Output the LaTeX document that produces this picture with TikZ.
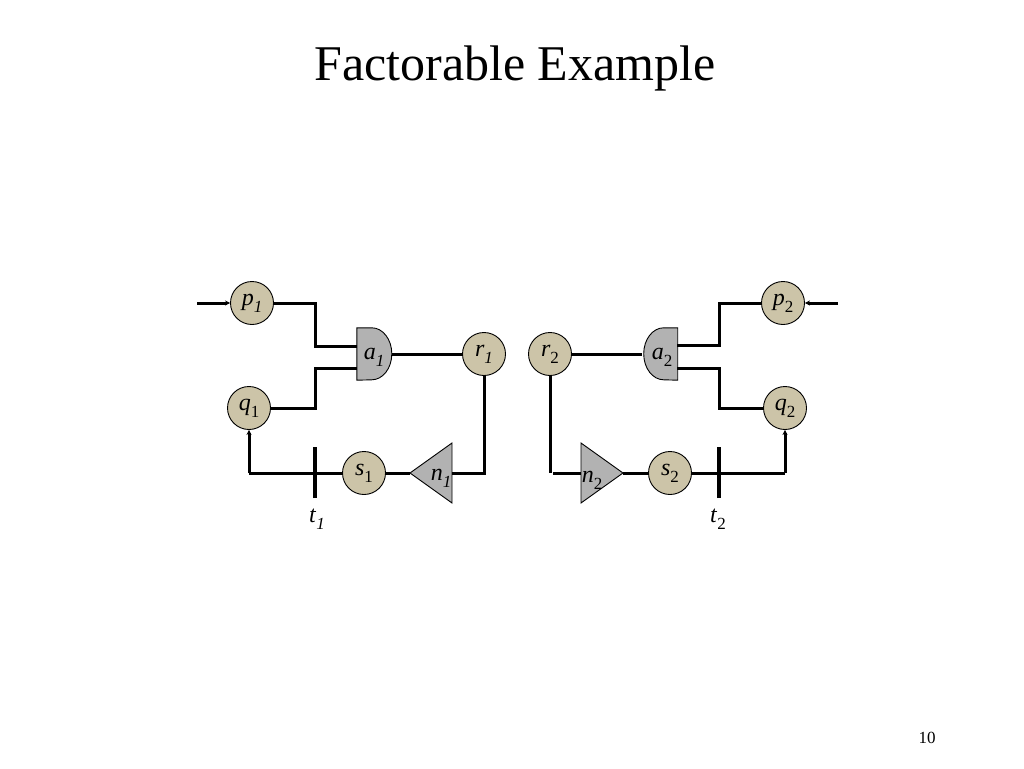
\documentclass[tikz,border=0pt]{standalone}
\usepackage{fontspec}
\setmainfont{Liberation Serif}
\usetikzlibrary{arrows.meta}
\definecolor{tanfill}{RGB}{204,196,168}
\definecolor{gatefill}{RGB}{178,178,178}
% label: #1 letter, #2 subscript (already styled)
\newcommand{\lab}[2]{\textit{#1}\raisebox{-0.28em}{\fontsize{17}{18}\selectfont #2}}
\tikzset{
  place/.style={circle,draw=black,line width=0.9pt,fill=tanfill,minimum size=43pt,inner sep=0pt,font=\fontsize{24}{26}\selectfont},
  gate/.style={minimum width=35pt,minimum height=52pt,inner sep=0pt},
  shapeline/.style={draw=black,line width=0.9pt,fill=gatefill},
  wire/.style={line width=3pt,line join=miter},
  arrowwire/.style={wire,-{Stealth[length=5pt,width=5pt]}},
  bar/.style={line width=4.5pt},
  lbl/.style={inner sep=0pt,font=\fontsize{24}{26}\selectfont}
}
\begin{document}
\begin{tikzpicture}[x=1pt,y=-1pt]
\useasboundingbox (0,0) rectangle (1024,768);
% title and page number
\node[anchor=base,inner sep=0pt,font=\fontsize{50}{54}\selectfont] (title) at (515,80) {Factorable Example};
\node[anchor=base,inner sep=0pt,font=\fontsize{17}{19}\selectfont] (page) at (927,743) {10};

% ---------- left half ----------
\node[place] (p1) at (252,303) {\lab{p}{\textit{1}}};
\node[place] (q1) at (249,408) {\lab{q}{1}};
\node[place] (r1) at (484,354) {\lab{r}{\textit{1}}};
\node[place] (s1) at (364,473) {\lab{s}{1}};
\node[gate] (a1) at (374.5,354) {};
\draw[shapeline] (a1.north west) -- ++(15,0) arc[start angle=-90,end angle=90,x radius=20,y radius=26] -- (a1.south west) -- cycle;
\node[lbl] (a1l) at (374,357) {\lab{a}{\textit{1}}};
\coordinate (n1tip) at (410,473);
\coordinate (n1top) at (452,443);
\coordinate (n1bot) at (452,503);
\coordinate (n1base) at (452,473);
\draw[shapeline] (n1tip) -- (n1top) -- (n1bot) -- cycle;
\node[lbl] (n1) at (441,478) {\lab{n}{\textit{1}}};
\coordinate (in1) at (197,303);
\coordinate (p1k) at (315,303);
\coordinate (a1in1) at (357,346);
\coordinate (a1in2) at (357,368);
\coordinate (q1k) at (315,408);
\coordinate (r1dn) at (484,473);
\coordinate (l1c) at (249,473);
\coordinate (t1) at (315,473);

\draw[arrowwire] (in1) -- (p1.west);
\draw[wire] (p1.east) -- (p1k) |- (a1in1);
\draw[wire] (q1.east) -- (q1k) |- (a1in2);
\draw[wire] (a1.east) -- (r1.west);
\draw[wire] (r1.south) -- (r1dn) -- (n1base);
\draw[wire] (n1tip) -- (s1.east);
\draw[wire] (s1.west) -- (l1c);
\draw[arrowwire] (l1c) -- (q1.south);
\draw[bar] ([yshift=-25]t1) -- ([yshift=26]t1);
\node[lbl] (t1l) at (317,519) {\lab{t}{\textit{1}}};

% ---------- right half ----------
\node[place] (p2) at (783,303) {\lab{p}{2}};
\node[place] (q2) at (785,408) {\lab{q}{2}};
\node[place] (r2) at (550,354) {\lab{r}{2}};
\node[place] (s2) at (670,473) {\lab{s}{2}};
\node[gate] (a2) at (660,354) {};
\draw[shapeline] (a2.north east) -- ++(-14,0) arc[start angle=-90,end angle=-270,x radius=20,y radius=26] -- (a2.south east) -- cycle;
\node[lbl] (a2l) at (662,357) {\lab{a}{2}};
\coordinate (n2tip) at (623,473);
\coordinate (n2top) at (581,443);
\coordinate (n2bot) at (581,503);
\coordinate (n2base) at (581,473);
\draw[shapeline] (n2tip) -- (n2top) -- (n2bot) -- cycle;
\node[lbl] (n2) at (592,480) {\lab{n}{2}};
\coordinate (in2) at (838,303);
\coordinate (p2k) at (719,303);
\coordinate (a2out1) at (677,345);
\coordinate (a2out2) at (677,368);
\coordinate (q2k) at (719,408);
\coordinate (r2dn) at (550,473);
\coordinate (r2h) at (553,473);
\coordinate (r2c) at (785,473);
\coordinate (t2) at (719,473);

\draw[arrowwire] (in2) -- (p2.east);
\draw[wire] (p2.west) -- (p2k) |- (a2out1);
\draw[wire] (q2.west) -- (q2k) |- (a2out2);
\draw[wire] (r2.east) -- (a2.west);
\draw[wire] (r2.south) -- (r2dn);
\draw[wire] (r2h) -- (n2base);
\draw[wire] (n2tip) -- (s2.west);
\draw[wire] (s2.east) -- (r2c);
\draw[arrowwire] (r2c) -- (q2.south);
\draw[bar] ([yshift=-25]t2) -- ([yshift=26]t2);
\node[lbl] (t2l) at (718,519) {\lab{t}{2}};
\end{tikzpicture}
\end{document}
